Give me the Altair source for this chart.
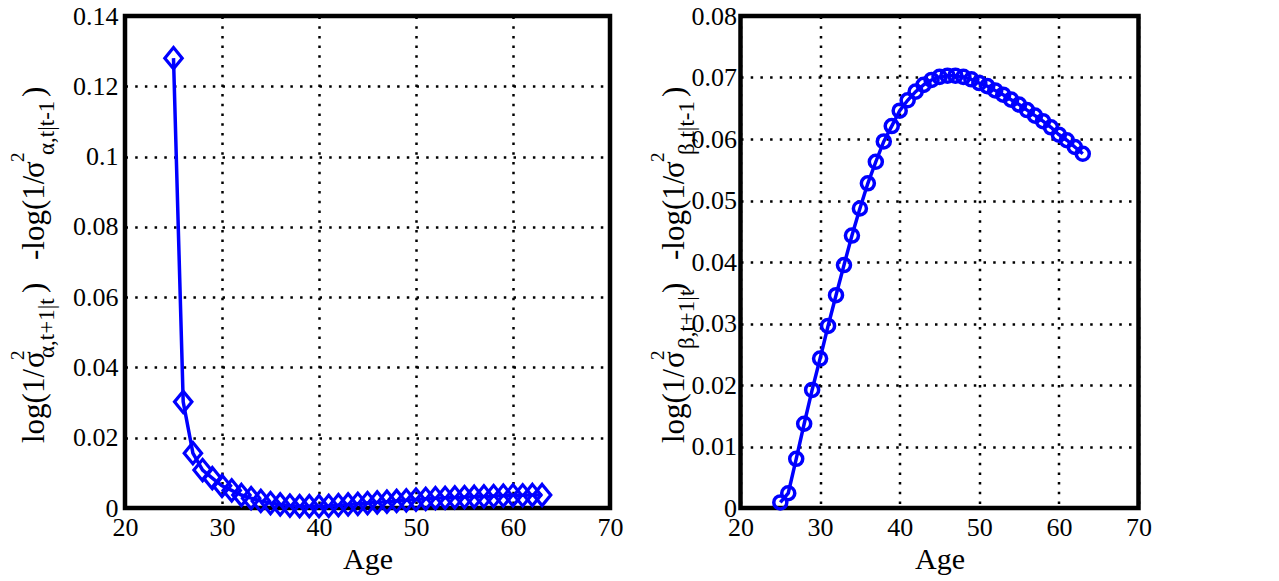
import altair as alt
import pandas as pd

# ---------------- data ----------------
ages = list(range(25, 64))
alpha_vals = [0.1280, 0.0302, 0.0156, 0.0108, 0.0085, 0.0063, 0.0050, 0.0037,
              0.0028, 0.0020, 0.0014, 0.0010, 0.0007, 0.0005, 0.0005, 0.0005,
              0.0006, 0.0008, 0.0010, 0.0012, 0.0014, 0.0016, 0.0018, 0.0020,
              0.0022, 0.0024, 0.0026, 0.0028, 0.0029, 0.0030, 0.0031, 0.0032,
              0.0033, 0.0034, 0.0035, 0.0036, 0.0036, 0.0037, 0.0037]
beta_vals = [0.0009, 0.0024, 0.0080, 0.0137, 0.0192, 0.0243, 0.0296, 0.0346,
             0.0395, 0.0443, 0.0487, 0.0528, 0.0563, 0.0596, 0.0621, 0.0646,
             0.0663, 0.0677, 0.0688, 0.0696, 0.0701, 0.0703, 0.0703, 0.0701,
             0.0697, 0.0691, 0.0686, 0.0679, 0.0672, 0.0664, 0.0656, 0.0647,
             0.0638, 0.0629, 0.0619, 0.0607, 0.0598, 0.0587, 0.0576]

x_ticks = [20, 30, 40, 50, 60, 70]
left_y_ticks = [0, 0.02, 0.04, 0.06, 0.08, 0.1, 0.12, 0.14]
right_y_ticks = [0, 0.01, 0.02, 0.03, 0.04, 0.05, 0.06, 0.07, 0.08]

left_title = [("log(1/", "main", 427), ("σ", "main", 352), ("2", "sup", 344),
              ("α,t+1|t", "sub", 342), (")", "main", 277), ("-log(1/", "main", 244),
              ("σ", "main", 162), ("2", "sup", 146), ("α,t|t-1", "sub", 139),
              (")", "main", 81)]
right_title = [("log(1/", "main", 427), ("σ", "main", 352), ("2", "sup", 344),
               ("β,t+1|t", "sub", 333), (")", "main", 277), ("-log(1/", "main", 244),
               ("σ", "main", 162), ("2", "sup", 146), ("β,t|t-1", "sub", 139),
               (")", "main", 81)]

FONT = "Liberation Serif"
BLUE = "#0000ff"
DIAMOND = "M0,-1L0.82,0L0,1L-0.82,0Z"

one_row = pd.DataFrame({"k": [0]})


def title_layers(parts, main_x):
    layers = []
    for txt, kind, ypos in parts:
        if kind == "main":
            fs, xb = 31, main_x
        elif kind == "sup":
            fs, xb = 19, main_x - 20
        else:
            fs, xb = 23, main_x + 10
        layers.append(
            alt.Chart(one_row).mark_text(
                text=txt, angle=270, align="left", baseline="alphabetic",
                font=FONT, fontSize=fs, color="black"
            ).encode(x=alt.value(xb), y=alt.value(ypos))
        )
    return layers


def panel(values, shape, size, stroke_w, y_domain, y_ticks, width, label_pad,
          parts, main_x):
    df = pd.DataFrame({"age": ages, "val": values})
    base = alt.Chart(df).encode(
        x=alt.X("age:Q",
                scale=alt.Scale(domain=[20, 70], nice=False, zero=False),
                axis=alt.Axis(values=x_ticks, title="Age", labelPadding=6,
                              labelFlush=False, titlePadding=4)),
        y=alt.Y("val:Q",
                scale=alt.Scale(domain=y_domain, nice=False),
                axis=alt.Axis(values=y_ticks, title=None, format="~g",
                              labelPadding=label_pad)),
    )
    line = base.mark_line(color=BLUE, strokeWidth=3.5)
    pts = base.mark_point(shape=shape, size=size, filled=False, color=BLUE,
                          strokeWidth=stroke_w, opacity=1)
    return alt.layer(line, pts, *title_layers(parts, main_x)).properties(
        width=width, height=492)


left = panel(alpha_vals, DIAMOND, 450, 3.2, [0, 0.14], left_y_ticks, 485, 7,
             left_title, -81)
right = panel(beta_vals, "circle", 170, 3.5, [0, 0.08], right_y_ticks, 398, 4,
              right_title, -57)

chart = alt.hconcat(left, right, spacing=19.5).properties(
    padding={"left": -2, "top": -8, "right": 0, "bottom": 0}
).configure_view(
    stroke="black", strokeWidth=4.5
).configure_axis(
    grid=True, gridColor="black", gridDash=[2.5, 7.2], gridWidth=2.5, gridOpacity=1,
    domain=False, ticks=False,
    labelFont=FONT, labelFontSize=26, labelColor="black",
    titleFont=FONT, titleFontSize=30, titleFontWeight="normal", titleColor="black"
).configure_concat(spacing=19.5)

chart.save("out.html", embed_options={"renderer": "svg", "actions": False})
